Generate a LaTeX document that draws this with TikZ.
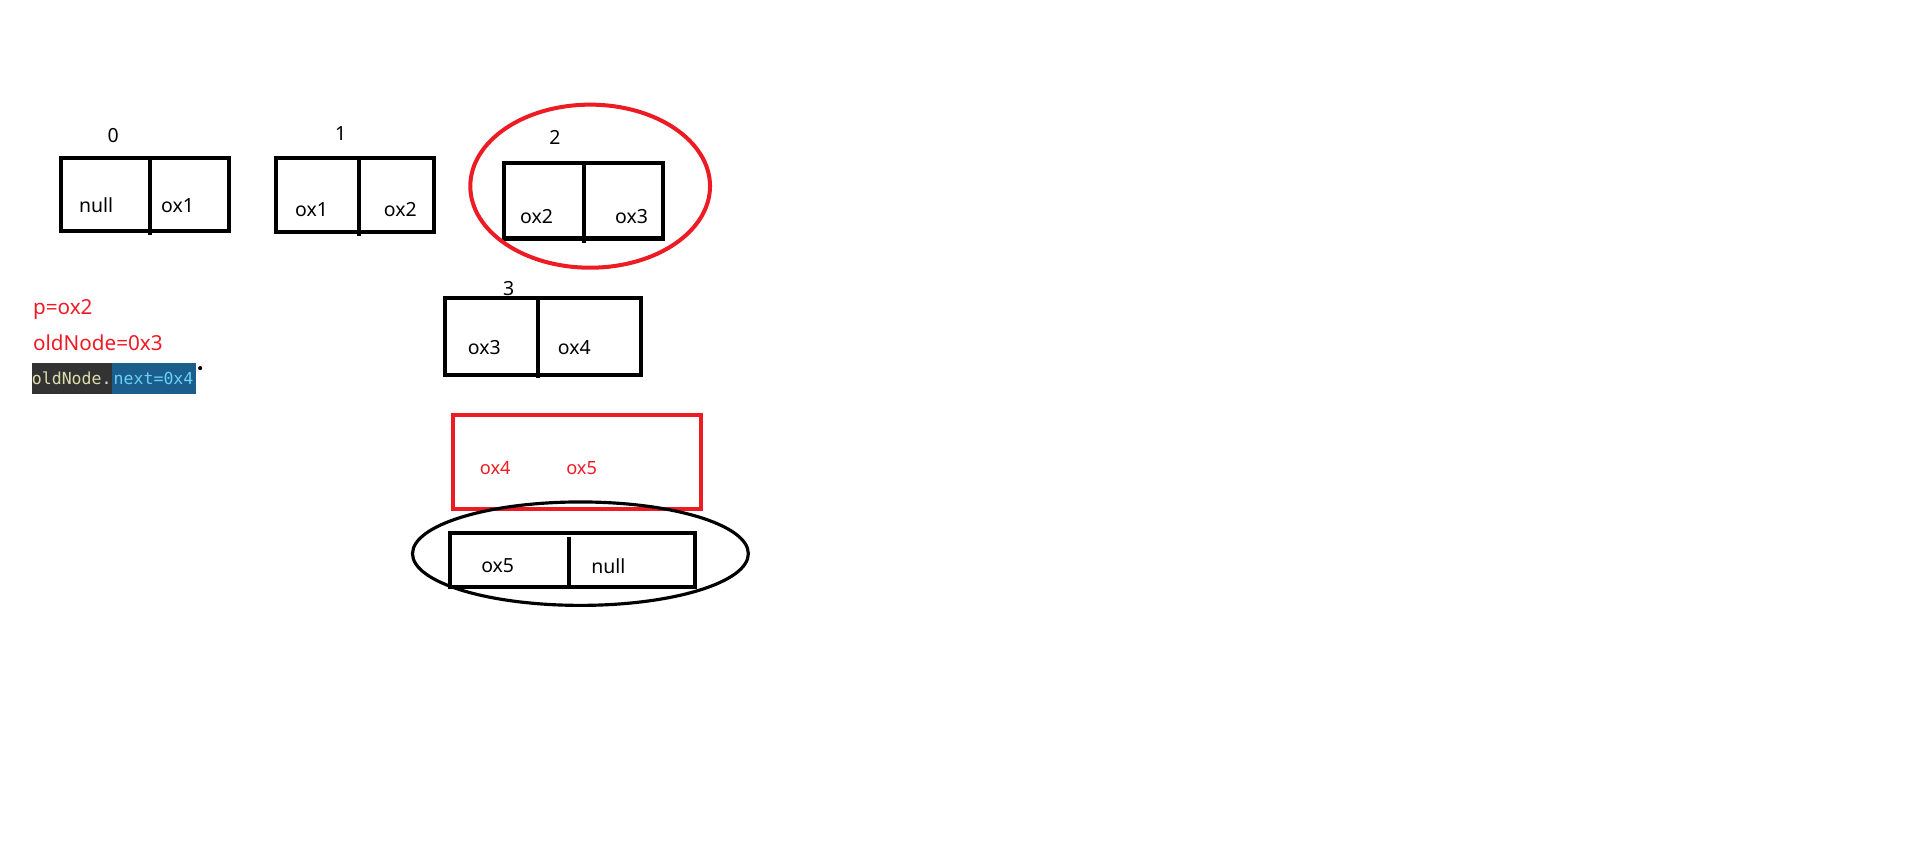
\documentclass[tikz,border=0pt]{standalone}
\usepackage{fontspec}
\setsansfont{Noto Sans}
\setmonofont{DejaVu Sans Mono}
\usetikzlibrary{shapes.geometric}
\definecolor{paintRed}{HTML}{ED1C24}
\definecolor{codeDark}{HTML}{333333}
\definecolor{codeSel}{HTML}{1B5E8C}
\definecolor{codeYellow}{HTML}{DCDCAA}
\definecolor{codeBlue}{HTML}{6CD0F5}
\begin{document}
\begin{tikzpicture}[
  x=1pt, y=-1pt,
  font=\sffamily\fontsize{16}{19}\selectfont,
  box/.style={draw, line width=3.3pt},
  ring/.style={draw, ellipse, inner sep=0pt},
  val/.style={inner sep=0pt},
  hot/.style={inner sep=0pt, text=paintRed, font=\sffamily\fontsize{15}{18}\selectfont},
  note/.style={inner sep=0pt, anchor=west, text=paintRed, font=\sffamily\fontsize{17}{20}\selectfont},
  code/.style={inner sep=0pt, anchor=west, minimum height=25pt, text depth=0pt,
    font=\ttfamily\fontsize{13.6}{16}\selectfont}]

\useasboundingbox (0,0) rectangle (1568,698.5);

% Index labels above the boxes
\node[val] (idx0) at (93,111) {0};
\node[val] (idx1) at (280,110) {1};
\node[val] (idx2) at (456,113) {2};
\node[val] (idx3) at (418,237) {3};

% The boxes: two cells each
\draw[box] (50,130) rectangle (188,190);
\draw[box] (123,130) -- (123,193);
\node[val] (node0Prev) at (79,169) {null};
\node[val] (node0Next) at (146,169) {ox1};

\draw[box] (227,130) rectangle (357,191);
\draw[box] (295,130) -- (295,194);
\node[val] (node1Prev) at (256,172) {ox1};
\node[val] (node1Next) at (329,172) {ox2};

\draw[box] (414,134) rectangle (545,196);
\draw[box] (480,134) -- (480,200);
\node[val] (node2Prev) at (441,178) {ox2};
\node[val] (node2Next) at (519,178) {ox3};

\draw[box] (366,245) rectangle (527,308);
\draw[box] (442,245) -- (442,311);
\node[val] (node3Prev) at (398,286) {ox3};
\node[val] (node3Next) at (472,286) {ox4};

\draw[box, draw=paintRed] (372,341) rectangle (576,418);
\node[hot] (newPrev) at (407,385) {ox4};
\node[hot] (newNext) at (478,385) {ox5};

\draw[box] (370,438) rectangle (571,482);
\draw[box] (468,441) -- (468,482);
\node[val] (node5Prev) at (409,465) {ox5};
\node[val] (node5Next) at (500,465) {null};

% Rings round box 2 and the last box
\node[ring, draw=paintRed, line width=3.3pt, minimum width=197pt, minimum height=134pt] (markTwo) at (485,153) {};
\node[ring, line width=2.6pt, minimum width=276pt, minimum height=85pt] (markLast) at (477,455) {};

% Notes on the left
\node[note] (noteP) at (27,254) {p=ox2};
\node[note] (noteOld) at (27,282) {oldNode=0x3};
\node[code, fill=codeDark, minimum width=65pt] (codeObj) at (26,311) {\textcolor{codeYellow}{oldNode}\textcolor{white!85!black}{.}};
\node[code, fill=codeSel, minimum width=69pt, anchor=west] (codeNext) at ([xshift=-0.4pt]codeObj.east) {\textcolor{codeBlue}{next=0x4}};
\fill (164.5,302.5) circle (1.7pt);
\end{tikzpicture}
\end{document}
